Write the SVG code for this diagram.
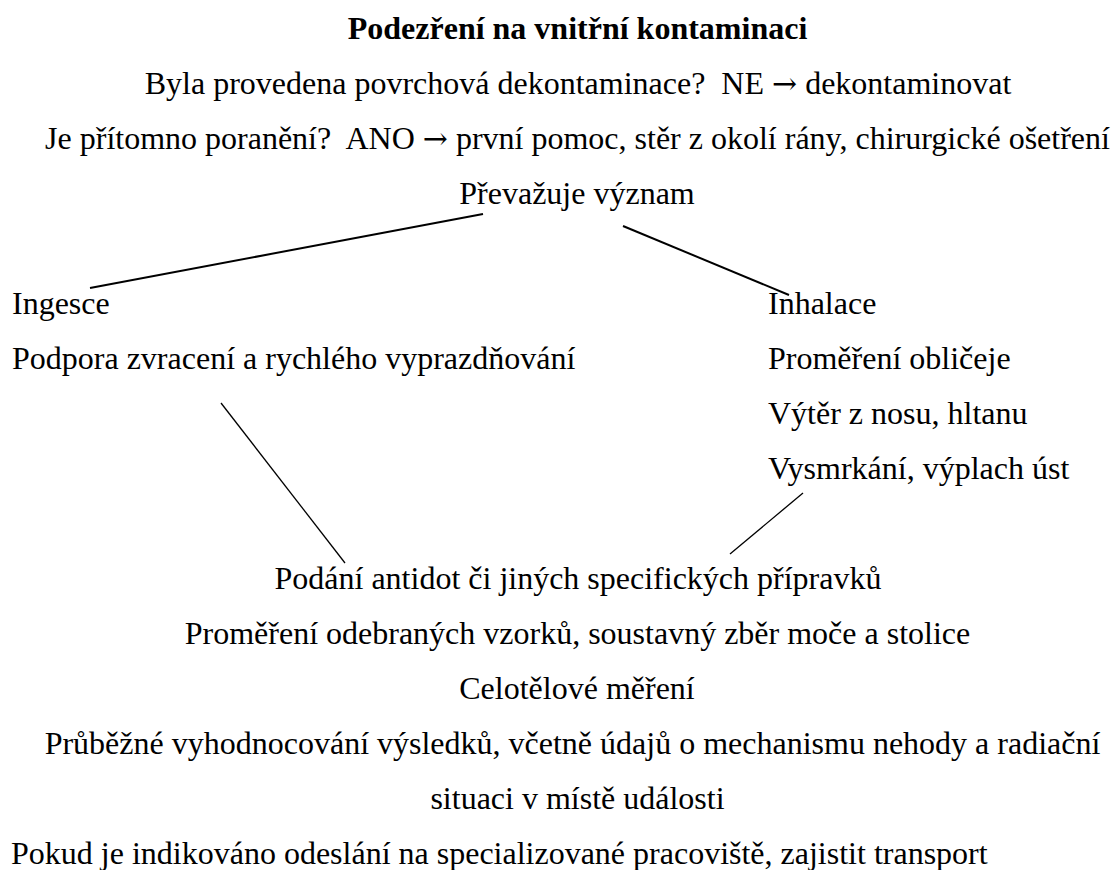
<svg xmlns="http://www.w3.org/2000/svg" width="1119" height="870" viewBox="0 0 1119 870" font-family="'Liberation Serif', 'Times New Roman', Times, serif" font-size="32">
<style>
text{fill:#000}
.c{text-anchor:middle}
.b{font-weight:bold}
.ar{font-family:"DejaVu Serif",serif;font-size:30px}
.thick{stroke:#000;stroke-width:2;fill:none}
.thin{stroke:#000;stroke-width:1.3;fill:none}
</style>
<rect width="1119" height="870" fill="#fff"/>
<g id="title"><text class="c b" x="577.5" y="39">Podezření na vnitřní kontaminaci</text></g>
<g id="q1"><text class="c" x="578" y="94" xml:space="preserve">Byla provedena povrchová dekontaminace?  NE <tspan class="ar">→</tspan> dekontaminovat</text></g>
<g id="q2"><text class="c" x="577.5" y="149" xml:space="preserve">Je přítomno poranění?  ANO <tspan class="ar">→</tspan> první pomoc, stěr z okolí rány, chirurgické ošetření</text></g>
<g id="prevazuje"><text class="c" x="577" y="204">Převažuje význam</text></g>
<g id="ingesce">
<text x="12" y="314">Ingesce</text>
<text x="12" y="369">Podpora zvracení a rychlého vyprazdňování</text>
</g>
<g id="inhalace">
<text x="768" y="314">Inhalace</text>
<text x="768" y="369">Proměření obličeje</text>
<text x="768" y="424">Výtěr z nosu, hltanu</text>
<text x="768" y="479">Vysmrkání, výplach úst</text>
</g>
<g id="spolecne">
<text class="c" x="578" y="589">Podání antidot či jiných specifických přípravků</text>
<text class="c" x="577.5" y="644">Proměření odebraných vzorků, soustavný zběr moče a stolice</text>
<text class="c" x="577" y="699">Celotělové měření</text>
<text class="c" x="572.5" y="754">Průběžné vyhodnocování výsledků, včetně údajů o mechanismu nehody a radiační</text>
<text class="c" x="577.5" y="809">situaci v místě události</text>
</g>
<g id="transport"><text x="11" y="864">Pokud je indikováno odeslání na specializované pracoviště, zajistit transport</text></g>
<g id="connectors">
<line class="thick" x1="483" y1="214" x2="90" y2="288"/>
<line class="thick" x1="623" y1="226" x2="789" y2="295"/>
<line class="thin" x1="221" y1="403" x2="345" y2="563"/>
<line class="thin" x1="803" y1="493" x2="730" y2="554"/>
</g>
</svg>
